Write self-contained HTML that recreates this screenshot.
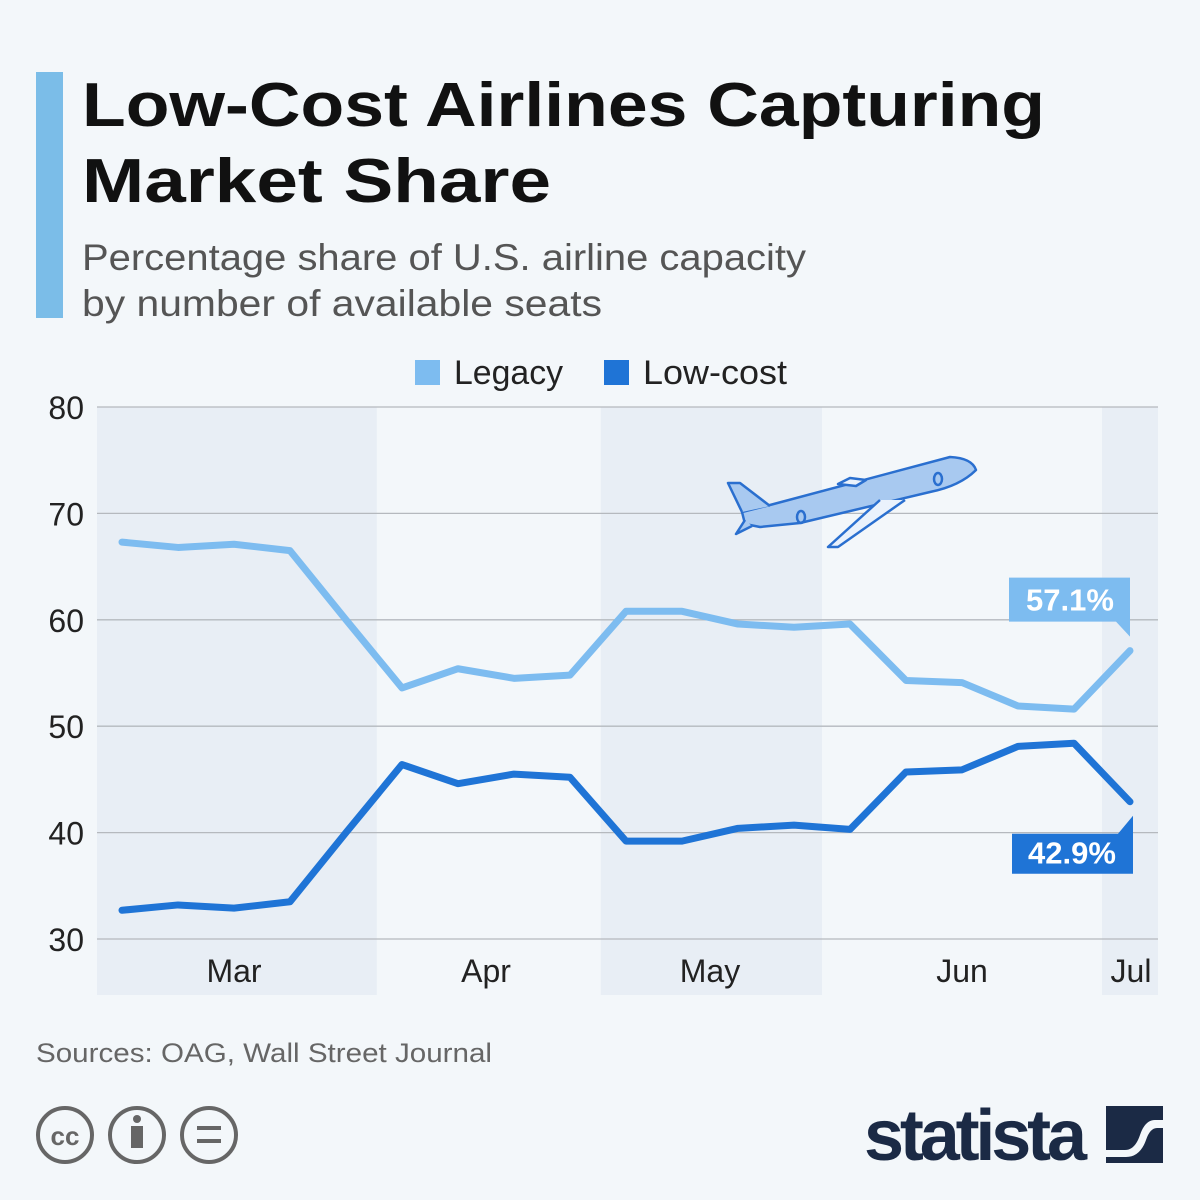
<!DOCTYPE html>
<html><head><meta charset="utf-8">
<style>
body{margin:0;background:#f3f7fa;font-family:"Liberation Sans","DejaVu Sans",sans-serif;}
#wrap{position:relative;width:1200px;height:1200px;overflow:hidden;background:#f3f7fa;}
</style></head><body>
<div id="wrap">
<svg width="1200" height="1200" id="svg">
  <rect x="36" y="72" width="27" height="246" fill="#7bbde8"/>
  <text x="82" y="126" font-size="62" font-weight="bold" fill="#111" textLength="963" lengthAdjust="spacingAndGlyphs">Low-Cost Airlines Capturing</text>
  <text x="82" y="202" font-size="62" font-weight="bold" fill="#111" textLength="469" lengthAdjust="spacingAndGlyphs">Market Share</text>
  <text x="82" y="270" font-size="37" fill="#555" textLength="724" lengthAdjust="spacingAndGlyphs">Percentage share of U.S. airline capacity</text>
  <text x="82" y="316" font-size="37" fill="#555" textLength="520" lengthAdjust="spacingAndGlyphs">by number of available seats</text>

  <g>
    <rect x="415" y="360" width="25" height="25" fill="#7dbcf0"/>
    <text x="454" y="384" font-size="34" fill="#222" textLength="109" lengthAdjust="spacingAndGlyphs">Legacy</text>
    <rect x="604" y="360" width="25" height="25" fill="#1f74d6"/>
    <text x="643" y="384" font-size="34" fill="#222" textLength="144" lengthAdjust="spacingAndGlyphs">Low-cost</text>
  </g>
  <g id="bands"></g>
  <g id="grid"></g>
  <g id="plane" stroke="#2a6fcf" stroke-width="2.5" stroke-linejoin="round">
    <path d="M742 512 L770 505 L950 457 Q972 458 976 470 Q960 486 930 492 L800 523 L760 527 L745 524 Z" fill="#a8c9f0"/>
    <path d="M742 512 L728 483 L740 483 L770 506" fill="#a8c9f0"/>
    <path d="M745 520 L736 534 L752 526" fill="#a8c9f0"/>
    <path d="M880 500 L828 547 L838 547 L905 500" fill="#eaf2fc"/>
    <path d="M838 484 L850 478 L866 480 L856 486 Z" fill="#eaf2fc"/>
    <ellipse cx="801" cy="517" rx="4" ry="6" fill="none"/>
    <ellipse cx="938" cy="479" rx="4" ry="6" fill="none"/>
  </g>
  <g id="ylabels"></g>
  <g id="xlabels"></g>
  <g id="lines"></g>
  <g id="callouts"></g>

  <text x="36" y="1062" font-size="27" fill="#666" textLength="456" lengthAdjust="spacingAndGlyphs">Sources: OAG, Wall Street Journal</text>
  <g fill="none" stroke="#666" stroke-width="4">
    <circle cx="65" cy="1135" r="27"/><circle cx="137" cy="1135" r="27"/><circle cx="209" cy="1135" r="27"/>
    <text x="65" y="1145" font-size="26" font-weight="bold" fill="#666" stroke="none" text-anchor="middle">cc</text>
    <circle cx="137" cy="1119" r="4" fill="#666" stroke="none"/>
    <rect x="131" y="1126" width="12" height="22" fill="#666" stroke="none"/>
    <rect x="197" y="1126" width="24" height="4" fill="#666" stroke="none"/>
    <rect x="197" y="1139" width="24" height="4" fill="#666" stroke="none"/>
  </g>
  <text x="864" y="1160" font-size="72" font-weight="bold" fill="#1b2a45" letter-spacing="-1" textLength="222">statista</text>
  <g>
    <rect x="1106" y="1106" width="57" height="57" fill="#1b2a45"/>
    <path d="M1106 1150 L1125 1150 Q1135 1150 1140 1135 Q1145 1120 1155 1120 L1163 1120 L1163 1128 L1157 1128 Q1150 1128 1146 1140 Q1140 1157 1126 1157 L1106 1157 Z" fill="#f3f7fa"/>
  </g>
</svg>
</div>
<script>
const legacy=[67.3,66.8,67.1,66.5,60.0,53.6,55.4,54.5,54.8,60.8,60.8,59.6,59.3,59.6,54.3,54.1,51.9,51.6,57.1];
const lowcost=[32.7,33.2,32.9,33.5,40.0,46.4,44.6,45.5,45.2,39.2,39.2,40.4,40.7,40.3,45.7,45.9,48.1,48.4,42.9];
const yTicks=[30,40,50,60,70,80];
const months=["Mar","Apr","May","Jun","Jul"];
const monthPos=[2,6.5,10.5,15,18];
const bandRanges=[[-0.45,4.55],[8.55,12.5],[17.5,18.5]];

const NS="http://www.w3.org/2000/svg";
const X0=122,DX=56,Y30=939,PX=10.64;
const x=i=>X0+i*DX;
const y=v=>Y30-(v-30)*PX;
function mk(tag,attrs,parent){const e=document.createElementNS(NS,tag);for(const k in attrs)e.setAttribute(k,attrs[k]);document.getElementById(parent).appendChild(e);return e;}

bandRanges.forEach(r=>{
  const x1=Math.max(97,x(r[0])),x2=Math.min(1158,x(r[1]));
  const b=mk('rect',{x:x1,y:407,width:x2-x1,height:588,fill:'#e8eef5'},'bands');
  
  
});
yTicks.forEach(t=>{
  const l=mk('line',{x1:97,x2:1158,y1:y(t),y2:y(t),stroke:'#b5b9be','stroke-width':1.3},'grid');
  
  
  const tx=mk('text',{x:84,y:y(t)+12,'font-size':32,fill:'#222','text-anchor':'end'},'ylabels');
  tx.textContent=t;
  
  
});
months.forEach((m,i)=>{
  const tx=mk('text',{x:x(monthPos[i])+(i==4?1:0),y:982,'font-size':32,fill:'#222','text-anchor':'middle'},'xlabels');
  tx.textContent=m;
  
  
});
function series(vals,color,name){
  const p=mk('polyline',{points:vals.map((v,i)=>x(i)+','+y(v)).join(' '),fill:'none',stroke:color,'stroke-width':7,'stroke-linejoin':'round','stroke-linecap':'round'},'lines');
  
  
}
series(legacy,'#7dbcf0','legacy-line');
series(lowcost,'#1f74d6','low-cost-line');

const n=legacy.length-1;
const lx=x(n),ly=y(legacy[n]);
mk('path',{d:`M${lx-121} ${ly-73} H${lx} V${ly-14} L${lx-14} ${ly-29} H${lx-121} Z`,fill:'#7dbcf0'},'callouts');
const t1=mk('text',{x:lx-60,y:ly-40,'font-size':31,'font-weight':'bold',fill:'#fff','text-anchor':'middle'},'callouts');
t1.textContent=legacy[n].toFixed(1)+'%';


const cx=x(n),cy=y(lowcost[n]);
mk('path',{d:`M${cx-118} ${cy+32} H${cx-12} L${cx+3} ${cy+14} V${cy+72} H${cx-118} Z`,fill:'#1f74d6'},'callouts');
const t2=mk('text',{x:cx-58,y:cy+62,'font-size':31,'font-weight':'bold',fill:'#fff','text-anchor':'middle'},'callouts');
t2.textContent=lowcost[n].toFixed(1)+'%';


</script>
</body></html>
